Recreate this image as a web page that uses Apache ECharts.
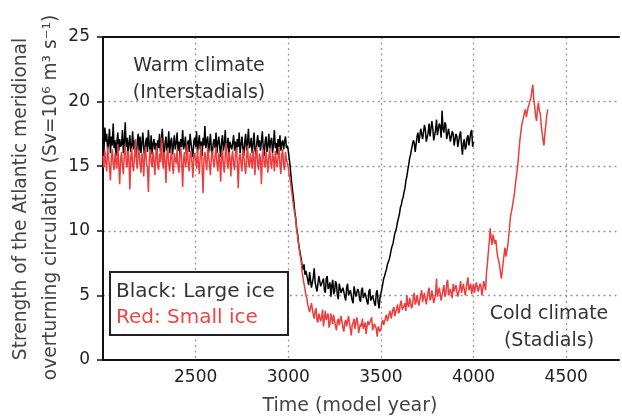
<!DOCTYPE html>
<html>
<head>
<meta charset="utf-8">
<script src="https://cdn.jsdelivr.net/npm/echarts@6/dist/echarts.min.js"></script>
<style>
html,body{margin:0;padding:0;background:#fff;}
#chart{width:622px;height:419px;}
</style>
</head>
<body>
<div id="chart"></div>
<script>
// ---- data ----
const startYear = 2000;
const stepYears = 5;
const xTickLabels = [2500, 3000, 3500, 4000, 4500];
const yTickLabels = [0, 5, 10, 15, 20, 25];

// Black: Large ice (2000-4000, every 5 model years)
const blackValues = [
  17.2,16.1,18.0,16.9,17.5,16.3,16.8,17.9,16.0,17.3,16.6,18.3,16.4,17.0,15.8,16.9,17.6,16.2,17.1,16.5,
  16.7,17.8,16.0,16.9,18.4,16.5,17.2,15.9,16.8,17.4,16.1,16.6,17.7,16.3,17.0,16.4,15.7,16.9,17.5,16.2,
  17.3,16.0,16.8,17.6,16.4,15.6,16.9,17.2,16.1,17.8,16.6,16.2,17.4,15.9,16.7,17.1,16.3,16.8,15.8,17.0,
  16.4,17.5,16.1,16.9,17.9,16.6,15.7,16.8,17.3,16.2,16.5,17.7,16.0,16.9,17.2,15.9,16.6,17.4,16.3,16.8,
  17.6,16.2,16.9,15.8,17.1,16.5,17.8,16.3,16.7,17.3,15.9,16.6,17.0,16.1,17.5,16.8,16.2,15.7,16.9,17.2,
  16.5,17.7,16.0,16.8,17.4,16.3,16.9,15.8,17.2,16.6,18.1,16.4,16.9,17.3,16.0,16.7,17.5,16.2,15.9,16.8,
  17.1,16.4,17.6,16.0,16.8,17.3,16.5,15.7,16.9,17.4,16.2,16.7,17.8,16.1,16.6,17.2,15.8,16.9,17.0,16.3,
  16.8,17.4,16.2,16.9,15.9,17.1,16.5,17.6,16.0,16.7,17.3,16.4,15.8,16.9,17.5,16.2,16.8,17.9,16.4,16.6,
  17.2,16.0,16.7,17.6,16.3,15.9,16.8,17.4,16.5,17.0,16.2,16.9,17.7,16.4,15.8,16.9,17.3,16.1,16.6,17.5,
  16.3,16.9,17.2,16.0,16.7,17.8,16.4,16.8,15.9,17.1,16.5,17.4,16.2,16.8,17.0,16.3,16.9,17.3,16.4,16.6,
  16.2,15.6,15.0,14.2,13.5,12.9,12.3,11.5,11.0,10.2,9.8,9.1,8.6,8.2,7.8,7.3,7.0,7.4,6.6,6.9,
  6.9,6.2,5.8,6.8,6.7,5.6,5.5,6.4,7.1,6.0,6.0,5.3,5.4,6.5,6.6,5.7,5.7,6.1,6.3,5.4,
  5.2,6.3,6.5,5.5,5.6,6.0,4.9,5.8,6.2,5.1,5.3,6.1,5.9,5.0,4.7,5.9,6.0,5.2,5.1,5.6,
  5.7,4.9,4.6,5.6,5.9,5.0,5.0,5.4,5.5,4.6,4.4,5.7,5.8,4.9,4.8,5.5,5.3,4.7,4.5,5.4,
  5.6,4.8,4.7,5.2,5.2,4.5,4.3,5.3,5.5,4.6,4.6,5.0,5.1,4.4,4.2,5.2,5.4,4.5,4.0,4.8,
  4.8,5.5,5.9,6.3,6.5,6.8,7.0,7.4,7.6,7.8,8.1,8.5,8.8,9.0,9.4,9.8,10.0,10.3,10.7,11.0,
  11.3,11.8,12.0,12.4,12.6,13.0,13.3,13.9,14.2,14.7,15.1,15.6,15.9,16.3,16.4,17.0,16.8,16.1,16.2,17.3,
  17.6,16.8,16.9,17.9,18.0,17.1,17.2,18.2,17.8,16.9,16.9,17.6,18.3,17.3,17.4,18.5,17.9,17.0,17.1,17.8,
  18.6,17.4,17.5,18.3,18.1,17.2,19.3,17.9,17.6,18.4,18.2,17.1,17.0,17.9,17.8,16.9,16.8,17.7,17.5,16.6,
  16.6,17.5,17.3,16.5,16.4,17.4,17.7,16.6,15.9,16.8,17.1,16.3,16.5,17.2,17.4,16.6,16.7,17.6,17.8,16.5,
  16.9
];

// Red: Small ice (2000-4400, every 5 model years)
const redValues = [
  15.8,14.9,16.2,15.3,14.6,16.5,15.7,15.0,13.9,15.6,16.3,15.1,14.7,16.0,15.4,14.8,16.7,15.2,13.6,15.5,
  16.1,15.0,14.4,15.9,16.6,15.3,14.9,16.2,15.5,13.2,15.7,16.4,15.0,14.6,15.8,17.1,15.4,14.8,15.9,16.2,
  15.1,14.5,16.0,15.6,14.2,15.9,16.5,15.2,14.8,13.0,15.7,16.3,15.4,14.9,16.1,15.5,14.3,15.8,16.6,15.0,
  14.7,16.0,15.3,17.2,15.6,14.8,16.1,15.4,13.7,15.9,16.4,15.1,14.6,15.7,16.2,15.0,14.4,16.0,15.5,15.2,
  16.3,15.0,14.5,15.8,16.5,15.2,13.4,15.6,16.1,14.9,15.4,16.7,15.1,14.6,15.9,16.2,15.3,14.1,15.7,16.0,
  15.5,14.8,16.3,15.2,14.4,15.9,16.6,15.0,12.9,15.6,16.1,15.3,14.7,16.4,15.8,15.1,14.3,15.7,16.2,15.4,
  14.9,15.8,16.5,15.2,14.6,16.0,15.5,13.8,15.7,16.3,15.0,14.5,15.9,16.8,15.3,14.8,16.1,15.6,14.2,15.7,
  16.2,15.1,14.7,15.9,16.4,15.3,13.3,15.6,16.0,15.2,14.6,16.3,15.8,15.0,14.4,15.7,16.6,15.2,14.9,16.0,
  15.4,14.8,16.2,15.6,14.3,15.9,16.5,15.1,14.7,16.0,15.5,13.6,15.8,16.3,15.2,14.9,16.1,15.4,14.5,15.7,
  16.4,15.2,14.8,16.0,15.6,14.6,16.2,15.3,14.9,15.8,16.5,15.1,14.4,15.9,16.3,15.0,14.7,16.1,15.5,15.2,
  14.9,14.3,14.0,13.4,12.9,12.3,11.8,11.3,10.9,10.1,9.6,9.0,8.5,8.0,7.6,6.8,6.3,5.9,5.5,5.0,
  4.8,4.3,4.2,3.7,3.6,4.4,4.5,3.5,3.2,3.8,4.0,3.1,2.9,3.6,3.7,3.0,3.3,3.9,2.6,3.2,
  3.8,3.1,3.0,3.6,2.5,2.8,3.6,3.2,2.8,3.5,3.4,2.6,2.3,3.0,3.2,2.7,2.7,3.4,3.5,2.5,
  2.2,2.9,3.1,2.6,2.6,3.4,3.3,2.4,1.9,2.7,2.9,3.2,2.4,2.3,3.3,2.9,2.1,2.5,2.8,2.6,
  3.2,2.4,2.5,2.9,2.0,2.6,3.0,2.7,2.6,3.1,3.3,2.3,2.2,2.8,2.9,2.4,1.8,2.6,2.7,2.2,
  2.4,2.9,3.1,2.7,2.8,3.3,3.5,3.0,3.0,3.6,3.8,3.2,3.3,3.9,4.1,3.4,3.5,4.0,4.3,3.6,
  3.8,4.4,4.6,3.9,3.9,4.2,4.4,3.8,5.0,4.3,4.1,4.8,4.7,4.0,4.2,4.9,5.2,4.3,4.5,5.0,
  4.9,4.2,4.3,5.1,5.4,4.5,4.6,5.2,5.1,4.3,4.4,5.3,5.6,4.6,4.8,5.4,5.3,4.4,4.5,5.1,
  6.3,4.9,5.0,5.6,5.5,4.6,4.7,5.4,5.8,4.9,5.1,5.9,6.2,5.0,4.9,5.5,5.4,4.8,5.9,5.3,
  5.2,5.8,5.7,4.9,4.8,5.6,6.1,5.2,5.3,5.9,5.8,5.0,5.0,6.0,6.4,5.4,5.5,5.9,5.1,5.6,
  5.9,5.2,5.3,6.0,6.0,5.3,5.4,5.9,5.7,5.0,5.1,6.1,6.2,5.4,6.8,7.5,8.4,9.2,10.2,9.4,
  8.9,9.7,9.8,9.0,9.3,8.6,8.0,7.7,7.4,6.8,6.3,6.9,7.6,8.2,8.7,8.0,8.1,8.9,9.6,10.4,
  11.2,11.5,11.9,12.4,12.8,13.5,14.1,14.6,15.3,16.2,17.0,17.6,18.2,18.5,18.8,19.2,19.4,18.8,18.9,19.6,
  19.8,20.1,20.3,20.9,21.3,20.2,19.6,18.9,18.5,19.4,19.9,19.3,19.1,18.2,17.6,17.0,16.6,17.5,18.2,18.9,
  19.4
];

function toPairs(vals) {
  return vals.map((v, i) => [startYear + i * stepYears, v]);
}

const FONT = "'DejaVu Sans', sans-serif";
const chart = echarts.init(document.getElementById('chart'), null, {renderer: 'canvas'});

const dotted = {color: '#9a9a9a', width: 1.3, type: [2, 3.5]};

const option = {
  animation: false,
  backgroundColor: '#ffffff',
  grid: {left: 103, right: 0, top: 37, bottom: 59, containLabel: false},
  xAxis: [{
    type: 'value',
    min: 2000,
    max: 4785,
    interval: 500,
    axisLine: {show: true, onZero: false, lineStyle: {color: '#111', width: 2}},
    axisTick: {show: false},
    axisLabel: {
      show: true, margin: 9, color: '#222', fontSize: 17, fontFamily: FONT,
      formatter: v => xTickLabels.includes(v) ? String(v) : ''
    },
    splitLine: {show: true, showMinLine: false, showMaxLine: false, lineStyle: dotted}
  }, {
    type: 'value',
    position: 'top',
    min: 2000,
    max: 4785,
    interval: 500,
    axisLine: {show: true, onZero: false, lineStyle: {color: '#111', width: 2}},
    axisTick: {show: false},
    axisLabel: {show: false},
    splitLine: {show: false}
  }],
  yAxis: {
    type: 'value',
    min: 0,
    max: 25,
    interval: 5,
    axisLine: {show: true, lineStyle: {color: '#111', width: 2}},
    axisTick: {show: true, inside: false, length: 6, lineStyle: {color: '#111', width: 1.5}},
    axisLabel: {
      margin: 13, color: '#222', fontSize: 17, fontFamily: FONT,
      formatter: v => yTickLabels.includes(v) ? String(v) : ''
    },
    splitLine: {show: true, showMinLine: false, showMaxLine: false, lineStyle: dotted}
  },
  series: [{
    name: 'Black: Large ice',
    type: 'line',
    xAxisIndex: 0,
    data: toPairs(blackValues),
    showSymbol: false,
    symbol: 'none',
    lineStyle: {color: '#000000', width: 1.5},
    z: 3
  }, {
    name: 'Red: Small ice',
    type: 'line',
    xAxisIndex: 0,
    data: toPairs(redValues),
    showSymbol: false,
    symbol: 'none',
    lineStyle: {color: '#ee3d3d', width: 1.5},
    z: 4
  }],
  graphic: [
    {type: 'text', x: 21, y: 199, rotation: Math.PI / 2, z: 10,
      style: {text: 'Strength of the Atlantic meridional', x: 0, y: 0, font: '18.6px ' + FONT, fill: '#444',
        textAlign: 'center', textVerticalAlign: 'middle'}},
    {type: 'text', x: 51, y: 197.5, rotation: Math.PI / 2, z: 10,
      style: {text: 'overturning circulation (Sv=10\u2076 m\u00b3 s\u207b\u00b9)', x: 0, y: 0, font: '18.6px ' + FONT, fill: '#444',
        textAlign: 'center', textVerticalAlign: 'middle'}},
    {type: 'text', z: 10,
      style: {text: 'Time (model year)', x: 350, y: 406, font: '19px ' + FONT, fill: '#444',
        textAlign: 'center', textVerticalAlign: 'middle'}},
    {type: 'text', z: 10,
      style: {text: 'Warm climate', x: 199, y: 66, font: '19px ' + FONT, fill: '#333',
        textAlign: 'center', textVerticalAlign: 'middle'}},
    {type: 'text', z: 10,
      style: {text: '(Interstadials)', x: 199, y: 93, font: '19px ' + FONT, fill: '#333',
        textAlign: 'center', textVerticalAlign: 'middle'}},
    {type: 'text', z: 10,
      style: {text: 'Cold climate', x: 549, y: 314, font: '19px ' + FONT, fill: '#333',
        textAlign: 'center', textVerticalAlign: 'middle'}},
    {type: 'text', z: 10,
      style: {text: '(Stadials)', x: 549, y: 341, font: '19px ' + FONT, fill: '#333',
        textAlign: 'center', textVerticalAlign: 'middle'}},
    {type: 'rect', z: 10,
      shape: {x: 110, y: 272, width: 178, height: 63},
      style: {fill: '#ffffff', stroke: '#222', lineWidth: 2}},
    {type: 'text', z: 11,
      style: {text: 'Black: Large ice', x: 116, y: 292, font: '20px ' + FONT, fill: '#333',
        textAlign: 'left', textVerticalAlign: 'middle'}},
    {type: 'text', z: 11,
      style: {text: 'Red: Small ice', x: 116, y: 318, font: '20px ' + FONT, fill: '#f04545',
        textAlign: 'left', textVerticalAlign: 'middle'}}
  ]
};
chart.setOption(option);
</script>
</body>
</html>
